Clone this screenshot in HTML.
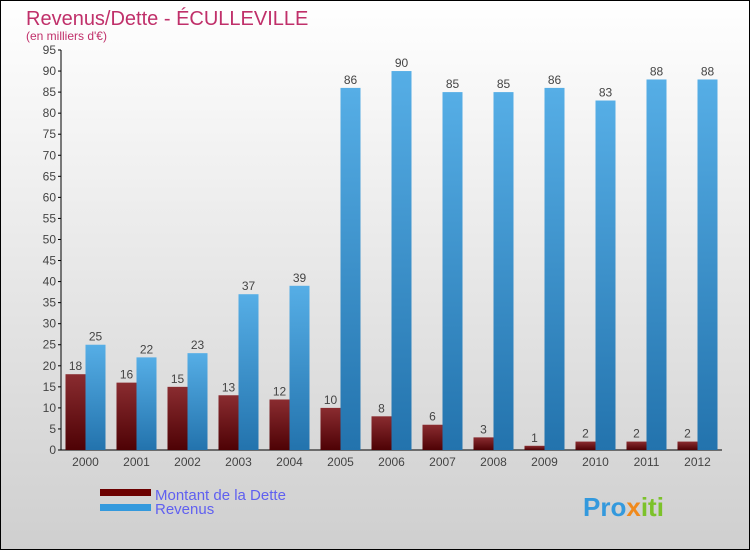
<!DOCTYPE html>
<html><head><meta charset="utf-8"><style>
body{margin:0;width:750px;height:550px;overflow:hidden;font-family:"Liberation Sans",sans-serif}
</style></head><body>
<svg width="750" height="550">
<defs>
<linearGradient id="bg" x1="0" y1="0" x2="0" y2="1"><stop offset="0" stop-color="#ffffff"/><stop offset="1" stop-color="#cfcfcf"/></linearGradient>
<linearGradient id="gd" x1="0" y1="0" x2="0" y2="1"><stop offset="0" stop-color="#8a2c30"/><stop offset="1" stop-color="#4e0205"/></linearGradient>
<linearGradient id="gr" x1="0" y1="0" x2="0" y2="1"><stop offset="0" stop-color="#56aee6"/><stop offset="1" stop-color="#2373ad"/></linearGradient>
</defs>
<rect x="0.5" y="0.5" width="749" height="549" fill="url(#bg)" stroke="#000"/>
<text x="26" y="25" font-size="20" fill="#c0306a">Revenus/Dette - ÉCULLEVILLE</text>
<text x="26" y="40" font-size="12" fill="#c0306a">(en milliers d'€)</text>
<g id="axes"></g>
<g id="bars"></g>
<g>
<rect x="100" y="489" width="51" height="7" fill="#6b0000"/>
<text x="155" y="500" font-size="15" fill="#6060f0">Montant de la Dette</text>
<rect x="100" y="504" width="51" height="7" fill="#3399dd"/>
<text x="155" y="514" font-size="15" fill="#6060f0">Revenus</text>
</g>
<text x="583" y="516" font-size="26" font-weight="bold" fill="#3399dd">Pro<tspan fill="#f08a1c">x</tspan><tspan fill="#7cc22a">iti</tspan></text>
</svg>
<script>
const years=["2000","2001","2002","2003","2004","2005","2006","2007","2008","2009","2010","2011","2012"];
const debt=[18,16,15,13,12,10,8,6,3,1,2,2,2];
const revenue=[25,22,23,37,39,86,90,85,85,86,83,88,88];
const ticks=[0,5,10,15,20,25,30,35,40,45,50,55,60,65,70,75,80,85,90,95];
const NS="http://www.w3.org/2000/svg";
const y0=450,ppu=400/95,x0=85.5,step=51,bw=20;
const y=v=>y0-v*ppu;
const x=i=>x0+i*step;
function el(t,a,p,txt){const e=document.createElementNS(NS,t);for(const k in a)e.setAttribute(k,a[k]);if(txt!==undefined)e.textContent=txt;p.appendChild(e);return e;}
const ax=document.getElementById('axes'),bars=document.getElementById('bars');
let a=el('line',{x1:61,y1:50,x2:61,y2:450,stroke:'#000'},ax);


a=el('line',{x1:61,y1:450,x2:722,y2:450,stroke:'#000'},ax);


ticks.forEach(t=>{
 const l=el('line',{x1:58,x2:61,y1:y(t),y2:y(t),stroke:'#000'},ax);
 
 
 const tx=el('text',{x:56,y:y(t)+4,'font-size':12,fill:'#444','text-anchor':'end'},ax,t);
 
 
});
years.forEach((yr,i)=>{
 const c=x(i);
 const t=el('text',{x:c,y:466,'font-size':12,fill:'#444','text-anchor':'middle'},ax,yr);
 
 
 const d=el('rect',{x:c-bw,y:y(debt[i]),width:bw,height:debt[i]*ppu,fill:'url(#gd)'},bars);
 
 
 const r=el('rect',{x:c,y:y(revenue[i]),width:bw,height:revenue[i]*ppu,fill:'url(#gr)'},bars);
 
 
 const dl=el('text',{x:c-bw/2,y:y(debt[i])-4,'font-size':12,fill:'#444','text-anchor':'middle'},bars,debt[i]);
 
 
 const rl=el('text',{x:c+bw/2,y:y(revenue[i])-4,'font-size':12,fill:'#444','text-anchor':'middle'},bars,revenue[i]);
 
 
});
</script>
</body></html>
